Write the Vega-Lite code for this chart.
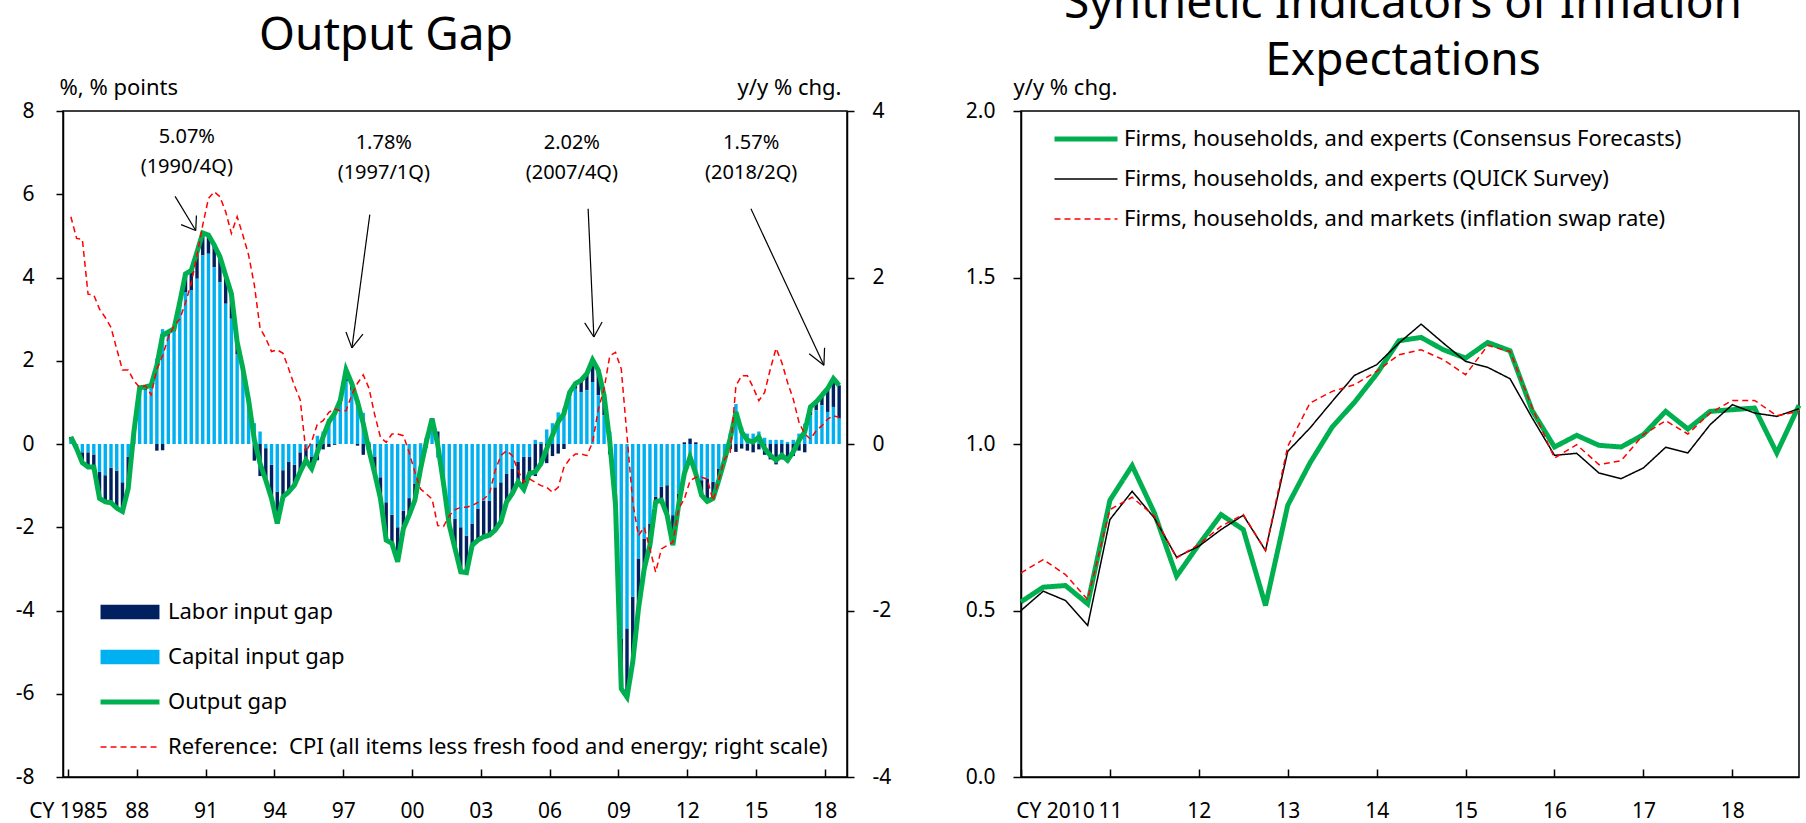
{
  "$schema": "https://vega.github.io/schema/vega-lite/v6.json",
  "background": "white",
  "padding": {"left": 14, "top": -20, "right": 0, "bottom": 0},
  "bounds": "flush",
  "spacing": 174,
  "resolve": {"scale": {"stroke": "independent", "strokeDash": "independent", "fill": "independent"}, "legend": {"stroke": "independent", "strokeDash": "independent", "fill": "independent"}},
  "config": {
    "font": "Noto Sans",
    "view": {"stroke": "black", "strokeWidth": 1.5},
    "axis": {"grid": false, "domainColor": "black", "domainWidth": 1.5, "tickColor": "black", "tickWidth": 1.5, "labelColor": "black", "labelFontSize": 21, "titleFontSize": 22, "titleFontWeight": "normal", "titleColor": "black", "labelFont": "Noto Sans", "titleFont": "Noto Sans"},
    "legend": {"labelFontSize": 22, "labelColor": "black", "labelFont": "Noto Sans", "title": null, "labelLimit": 0},
    "title": {"font": "Noto Sans", "fontSize": 46, "fontWeight": "normal", "color": "black"}
  },
  "datasets": {
    "og": [
      {"t": 1985.125, "lab": 0.05, "cap": 0.12, "out": 0.17, "cpi": 2.73},
      {"t": 1985.375, "lab": -0.06, "cap": -0.05, "out": -0.11, "cpi": 2.47},
      {"t": 1985.625, "lab": -0.25, "cap": -0.2, "out": -0.45, "cpi": 2.46},
      {"t": 1985.875, "lab": -0.35, "cap": -0.2, "out": -0.55, "cpi": 1.8},
      {"t": 1986.125, "lab": -0.3, "cap": -0.25, "out": -0.55, "cpi": 1.79},
      {"t": 1986.375, "lab": -0.64, "cap": -0.67, "out": -1.31, "cpi": 1.62},
      {"t": 1986.625, "lab": -0.64, "cap": -0.75, "out": -1.39, "cpi": 1.52},
      {"t": 1986.875, "lab": -0.84, "cap": -0.57, "out": -1.41, "cpi": 1.4},
      {"t": 1987.125, "lab": -0.9, "cap": -0.64, "out": -1.54, "cpi": 1.14},
      {"t": 1987.375, "lab": -0.7, "cap": -0.92, "out": -1.62, "cpi": 0.89},
      {"t": 1987.625, "lab": -0.76, "cap": -0.31, "out": -1.07, "cpi": 0.89},
      {"t": 1987.875, "lab": 0.0, "cap": 0.3, "out": 0.3, "cpi": 0.76},
      {"t": 1988.125, "lab": 0.05, "cap": 1.3, "out": 1.35, "cpi": 0.68},
      {"t": 1988.375, "lab": 0.07, "cap": 1.3, "out": 1.37, "cpi": 0.7},
      {"t": 1988.625, "lab": 0.06, "cap": 1.35, "out": 1.41, "cpi": 0.59},
      {"t": 1988.875, "lab": -0.16, "cap": 2.05, "out": 1.89, "cpi": 0.9},
      {"t": 1989.125, "lab": -0.15, "cap": 2.76, "out": 2.61, "cpi": 1.06},
      {"t": 1989.375, "lab": 0.09, "cap": 2.6, "out": 2.69, "cpi": 1.28},
      {"t": 1989.625, "lab": 0.07, "cap": 2.7, "out": 2.77, "cpi": 1.42},
      {"t": 1989.875, "lab": 0.11, "cap": 3.3, "out": 3.41, "cpi": 1.5},
      {"t": 1990.125, "lab": 0.44, "cap": 3.65, "out": 4.09, "cpi": 1.7},
      {"t": 1990.375, "lab": 0.47, "cap": 3.7, "out": 4.17, "cpi": 1.93},
      {"t": 1990.625, "lab": 0.64, "cap": 3.97, "out": 4.61, "cpi": 2.27},
      {"t": 1990.875, "lab": 0.54, "cap": 4.53, "out": 5.07, "cpi": 2.63},
      {"t": 1991.125, "lab": 0.45, "cap": 4.57, "out": 5.02, "cpi": 2.95},
      {"t": 1991.375, "lab": 0.53, "cap": 4.25, "out": 4.78, "cpi": 3.03},
      {"t": 1991.625, "lab": 0.61, "cap": 3.89, "out": 4.5, "cpi": 2.97},
      {"t": 1991.875, "lab": 0.68, "cap": 3.37, "out": 4.05, "cpi": 2.79},
      {"t": 1992.125, "lab": 0.6, "cap": 3.01, "out": 3.61, "cpi": 2.53},
      {"t": 1992.375, "lab": 0.3, "cap": 2.15, "out": 2.45, "cpi": 2.73},
      {"t": 1992.625, "lab": 0.1, "cap": 1.71, "out": 1.81, "cpi": 2.51},
      {"t": 1992.875, "lab": 0.0, "cap": 1.05, "out": 1.05, "cpi": 2.27},
      {"t": 1993.125, "lab": -0.4, "cap": 0.5, "out": 0.1, "cpi": 1.91},
      {"t": 1993.375, "lab": -0.77, "cap": 0.3, "out": -0.47, "cpi": 1.39},
      {"t": 1993.625, "lab": -0.77, "cap": -0.1, "out": -0.87, "cpi": 1.27},
      {"t": 1993.875, "lab": -0.81, "cap": -0.5, "out": -1.31, "cpi": 1.11},
      {"t": 1994.125, "lab": -0.76, "cap": -1.15, "out": -1.91, "cpi": 1.13},
      {"t": 1994.375, "lab": -0.64, "cap": -0.63, "out": -1.27, "cpi": 1.09},
      {"t": 1994.625, "lab": -0.72, "cap": -0.43, "out": -1.15, "cpi": 0.9},
      {"t": 1994.875, "lab": -0.49, "cap": -0.5, "out": -0.99, "cpi": 0.7},
      {"t": 1995.125, "lab": -0.47, "cap": -0.2, "out": -0.67, "cpi": 0.53},
      {"t": 1995.375, "lab": -0.29, "cap": -0.1, "out": -0.39, "cpi": -0.09},
      {"t": 1995.625, "lab": -0.29, "cap": -0.3, "out": -0.59, "cpi": 0.03},
      {"t": 1995.875, "lab": -0.39, "cap": 0.2, "out": -0.19, "cpi": 0.24},
      {"t": 1996.125, "lab": -0.13, "cap": 0.3, "out": 0.17, "cpi": 0.28},
      {"t": 1996.375, "lab": -0.07, "cap": 0.6, "out": 0.53, "cpi": 0.38},
      {"t": 1996.625, "lab": -0.02, "cap": 0.75, "out": 0.73, "cpi": 0.42},
      {"t": 1996.875, "lab": 0.1, "cap": 0.95, "out": 1.05, "cpi": 0.4},
      {"t": 1997.125, "lab": 0.28, "cap": 1.5, "out": 1.78, "cpi": 0.4},
      {"t": 1997.375, "lab": 0.15, "cap": 1.3, "out": 1.45, "cpi": 0.59},
      {"t": 1997.625, "lab": -0.04, "cap": 1.05, "out": 1.01, "cpi": 0.73},
      {"t": 1997.875, "lab": -0.26, "cap": 0.75, "out": 0.49, "cpi": 0.83},
      {"t": 1998.125, "lab": -0.2, "cap": 0.05, "out": -0.15, "cpi": 0.67},
      {"t": 1998.375, "lab": -0.41, "cap": -0.3, "out": -0.71, "cpi": 0.35},
      {"t": 1998.625, "lab": -0.51, "cap": -0.8, "out": -1.31, "cpi": 0.08},
      {"t": 1998.875, "lab": -0.91, "cap": -1.4, "out": -2.31, "cpi": 0.02},
      {"t": 1999.125, "lab": -0.69, "cap": -1.7, "out": -2.39, "cpi": 0.12},
      {"t": 1999.375, "lab": -0.83, "cap": -2.0, "out": -2.83, "cpi": 0.12},
      {"t": 1999.625, "lab": -0.43, "cap": -1.6, "out": -2.03, "cpi": 0.1},
      {"t": 1999.875, "lab": -0.41, "cap": -1.3, "out": -1.71, "cpi": -0.1},
      {"t": 2000.125, "lab": -0.4, "cap": -0.95, "out": -1.35, "cpi": -0.34},
      {"t": 2000.375, "lab": 0.01, "cap": -0.6, "out": -0.59, "cpi": -0.54},
      {"t": 2000.625, "lab": 0.15, "cap": -0.1, "out": 0.05, "cpi": -0.6},
      {"t": 2000.875, "lab": 0.26, "cap": 0.35, "out": 0.61, "cpi": -0.66},
      {"t": 2001.125, "lab": 0.3, "cap": -0.33, "out": -0.03, "cpi": -0.98},
      {"t": 2001.375, "lab": -0.05, "cap": -0.9, "out": -0.95, "cpi": -0.99},
      {"t": 2001.625, "lab": -0.25, "cap": -1.7, "out": -1.95, "cpi": -0.86},
      {"t": 2001.875, "lab": -0.71, "cap": -1.8, "out": -2.51, "cpi": -0.79},
      {"t": 2002.125, "lab": -1.07, "cap": -2.0, "out": -3.07, "cpi": -0.76},
      {"t": 2002.375, "lab": -0.89, "cap": -2.2, "out": -3.09, "cpi": -0.76},
      {"t": 2002.625, "lab": -0.52, "cap": -1.91, "out": -2.43, "cpi": -0.74},
      {"t": 2002.875, "lab": -0.76, "cap": -1.55, "out": -2.31, "cpi": -0.7},
      {"t": 2003.125, "lab": -0.87, "cap": -1.36, "out": -2.23, "cpi": -0.66},
      {"t": 2003.375, "lab": -0.83, "cap": -1.36, "out": -2.19, "cpi": -0.6},
      {"t": 2003.625, "lab": -1.03, "cap": -1.04, "out": -2.07, "cpi": -0.32},
      {"t": 2003.875, "lab": -0.95, "cap": -0.92, "out": -1.87, "cpi": -0.14},
      {"t": 2004.125, "lab": -0.67, "cap": -0.72, "out": -1.39, "cpi": -0.08},
      {"t": 2004.375, "lab": -0.6, "cap": -0.59, "out": -1.19, "cpi": -0.14},
      {"t": 2004.625, "lab": -0.48, "cap": -0.43, "out": -0.91, "cpi": -0.32},
      {"t": 2004.875, "lab": -0.78, "cap": -0.31, "out": -1.09, "cpi": -0.46},
      {"t": 2005.125, "lab": -0.4, "cap": -0.31, "out": -0.71, "cpi": -0.42},
      {"t": 2005.375, "lab": -0.77, "cap": 0.1, "out": -0.67, "cpi": -0.46},
      {"t": 2005.625, "lab": -0.52, "cap": 0.05, "out": -0.47, "cpi": -0.5},
      {"t": 2005.875, "lab": -0.46, "cap": 0.35, "out": -0.11, "cpi": -0.52},
      {"t": 2006.125, "lab": -0.29, "cap": 0.5, "out": 0.21, "cpi": -0.58},
      {"t": 2006.375, "lab": -0.23, "cap": 0.76, "out": 0.53, "cpi": -0.52},
      {"t": 2006.625, "lab": -0.12, "cap": 0.85, "out": 0.73, "cpi": -0.28},
      {"t": 2006.875, "lab": 0.07, "cap": 1.17, "out": 1.24, "cpi": -0.18},
      {"t": 2007.125, "lab": 0.12, "cap": 1.33, "out": 1.45, "cpi": -0.12},
      {"t": 2007.375, "lab": 0.28, "cap": 1.25, "out": 1.53, "cpi": -0.12},
      {"t": 2007.625, "lab": 0.4, "cap": 1.29, "out": 1.69, "cpi": -0.14},
      {"t": 2007.875, "lab": 0.53, "cap": 1.49, "out": 2.02, "cpi": 0.02},
      {"t": 2008.125, "lab": 0.6, "cap": 1.17, "out": 1.77, "cpi": 0.42},
      {"t": 2008.375, "lab": 0.48, "cap": 0.69, "out": 1.17, "cpi": 0.66},
      {"t": 2008.625, "lab": -0.25, "cap": 0.3, "out": 0.05, "cpi": 1.06},
      {"t": 2008.875, "lab": -0.27, "cap": -1.2, "out": -1.47, "cpi": 1.1},
      {"t": 2009.125, "lab": -1.2, "cap": -4.68, "out": -5.88, "cpi": 0.9},
      {"t": 2009.375, "lab": -1.65, "cap": -4.43, "out": -6.08, "cpi": 0.1},
      {"t": 2009.625, "lab": -1.57, "cap": -3.67, "out": -5.24, "cpi": -0.7},
      {"t": 2009.875, "lab": -1.21, "cap": -2.75, "out": -3.96, "cpi": -1.1},
      {"t": 2010.125, "lab": -0.73, "cap": -2.27, "out": -3.0, "cpi": -1.0},
      {"t": 2010.375, "lab": -0.52, "cap": -1.91, "out": -2.43, "cpi": -1.26},
      {"t": 2010.625, "lab": -0.12, "cap": -1.27, "out": -1.39, "cpi": -1.54},
      {"t": 2010.875, "lab": -0.32, "cap": -1.03, "out": -1.35, "cpi": -1.26},
      {"t": 2011.125, "lab": -0.72, "cap": -0.99, "out": -1.71, "cpi": -1.22},
      {"t": 2011.375, "lab": -0.72, "cap": -1.71, "out": -2.43, "cpi": -1.18},
      {"t": 2011.625, "lab": -0.27, "cap": -1.2, "out": -1.47, "cpi": -0.78},
      {"t": 2011.875, "lab": 0.04, "cap": -0.75, "out": -0.71, "cpi": -0.66},
      {"t": 2012.125, "lab": 0.13, "cap": -0.44, "out": -0.31, "cpi": -0.44},
      {"t": 2012.375, "lab": 0.04, "cap": -0.75, "out": -0.71, "cpi": -0.4},
      {"t": 2012.625, "lab": -0.36, "cap": -0.87, "out": -1.23, "cpi": -0.4},
      {"t": 2012.875, "lab": -0.55, "cap": -0.83, "out": -1.38, "cpi": -0.42},
      {"t": 2013.125, "lab": -0.4, "cap": -0.91, "out": -1.31, "cpi": -0.68},
      {"t": 2013.375, "lab": -0.27, "cap": -0.6, "out": -0.87, "cpi": -0.44},
      {"t": 2013.625, "lab": -0.09, "cap": -0.3, "out": -0.39, "cpi": -0.18},
      {"t": 2013.875, "lab": -0.12, "cap": 0.25, "out": 0.13, "cpi": -0.1},
      {"t": 2014.125, "lab": -0.19, "cap": 0.96, "out": 0.77, "cpi": 0.7},
      {"t": 2014.375, "lab": -0.11, "cap": 0.4, "out": 0.29, "cpi": 0.82},
      {"t": 2014.625, "lab": -0.16, "cap": 0.25, "out": 0.09, "cpi": 0.82},
      {"t": 2014.875, "lab": -0.2, "cap": 0.25, "out": 0.05, "cpi": 0.68},
      {"t": 2015.125, "lab": -0.13, "cap": 0.3, "out": 0.17, "cpi": 0.52},
      {"t": 2015.375, "lab": -0.26, "cap": 0.15, "out": -0.11, "cpi": 0.62},
      {"t": 2015.625, "lab": -0.37, "cap": 0.1, "out": -0.27, "cpi": 0.9},
      {"t": 2015.875, "lab": -0.49, "cap": 0.1, "out": -0.39, "cpi": 1.15},
      {"t": 2016.125, "lab": -0.37, "cap": 0.1, "out": -0.27, "cpi": 0.98},
      {"t": 2016.375, "lab": -0.44, "cap": 0.05, "out": -0.39, "cpi": 0.74},
      {"t": 2016.625, "lab": -0.29, "cap": 0.1, "out": -0.19, "cpi": 0.54},
      {"t": 2016.875, "lab": -0.16, "cap": 0.25, "out": 0.09, "cpi": 0.26},
      {"t": 2017.125, "lab": -0.2, "cap": 0.49, "out": 0.29, "cpi": 0.12},
      {"t": 2017.375, "lab": 0.2, "cap": 0.69, "out": 0.89, "cpi": 0.06},
      {"t": 2017.625, "lab": 0.2, "cap": 0.81, "out": 1.01, "cpi": 0.16},
      {"t": 2017.875, "lab": 0.24, "cap": 0.93, "out": 1.17, "cpi": 0.22},
      {"t": 2018.125, "lab": 0.56, "cap": 0.77, "out": 1.33, "cpi": 0.3},
      {"t": 2018.375, "lab": 0.68, "cap": 0.89, "out": 1.57, "cpi": 0.34},
      {"t": 2018.625, "lab": 0.8, "cap": 0.61, "out": 1.41, "cpi": 0.32}
    ],
    "notes": [
      {"tx": 1990.18, "ty": 7.38, "label": "5.07%"},
      {"tx": 1990.18, "ty": 6.66, "label": "(1990/4Q)"},
      {"tx": 1998.77, "ty": 7.24, "label": "1.78%"},
      {"tx": 1998.77, "ty": 6.52, "label": "(1997/1Q)"},
      {"tx": 2006.97, "ty": 7.22, "label": "2.02%"},
      {"tx": 2006.97, "ty": 6.52, "label": "(2007/4Q)"},
      {"tx": 2014.79, "ty": 7.22, "label": "1.57%"},
      {"tx": 2014.79, "ty": 6.52, "label": "(2018/2Q)"}
    ],
    "arrows": [
      {"x1": 1989.67, "y1": 5.95, "x2": 1990.57, "y2": 5.13},
      {"x1": 1989.93, "y1": 5.27, "x2": 1990.57, "y2": 5.13},
      {"x1": 1990.6, "y1": 5.49, "x2": 1990.57, "y2": 5.13},
      {"x1": 1998.16, "y1": 5.51, "x2": 1997.38, "y2": 2.31},
      {"x1": 1997.12, "y1": 2.69, "x2": 1997.38, "y2": 2.31},
      {"x1": 1997.86, "y1": 2.64, "x2": 1997.38, "y2": 2.31},
      {"x1": 2007.68, "y1": 5.65, "x2": 2007.93, "y2": 2.57},
      {"x1": 2007.53, "y1": 2.91, "x2": 2007.93, "y2": 2.57},
      {"x1": 2008.29, "y1": 2.93, "x2": 2007.93, "y2": 2.57},
      {"x1": 2014.78, "y1": 5.65, "x2": 2017.96, "y2": 1.89},
      {"x1": 2017.32, "y1": 2.17, "x2": 2017.96, "y2": 1.89},
      {"x1": 2017.99, "y1": 2.31, "x2": 2017.96, "y2": 1.89}
    ],
    "ie": [
      {"t": 2010.0, "cf": 0.526, "qs": 0.5, "sw": 0.613},
      {"t": 2010.25, "cf": 0.57, "qs": 0.558, "sw": 0.653},
      {"t": 2010.5, "cf": 0.575, "qs": 0.53, "sw": 0.608},
      {"t": 2010.75, "cf": 0.52, "qs": 0.455, "sw": 0.533},
      {"t": 2011.0, "cf": 0.831, "qs": 0.773, "sw": 0.803},
      {"t": 2011.25, "cf": 0.935, "qs": 0.858, "sw": 0.84},
      {"t": 2011.5, "cf": 0.793, "qs": 0.778, "sw": 0.783},
      {"t": 2011.75, "cf": 0.603, "qs": 0.66, "sw": 0.658},
      {"t": 2012.0, "cf": 0.698, "qs": 0.693, "sw": 0.698},
      {"t": 2012.25, "cf": 0.788, "qs": 0.743, "sw": 0.753},
      {"t": 2012.5, "cf": 0.743, "qs": 0.786, "sw": 0.788},
      {"t": 2012.75, "cf": 0.515, "qs": 0.68, "sw": 0.68},
      {"t": 2013.0, "cf": 0.816, "qs": 0.978, "sw": 0.993},
      {"t": 2013.25, "cf": 0.943, "qs": 1.048, "sw": 1.123},
      {"t": 2013.5, "cf": 1.051, "qs": 1.128, "sw": 1.158},
      {"t": 2013.75, "cf": 1.125, "qs": 1.206, "sw": 1.178},
      {"t": 2014.0, "cf": 1.21, "qs": 1.238, "sw": 1.218},
      {"t": 2014.25, "cf": 1.31, "qs": 1.303, "sw": 1.268},
      {"t": 2014.5, "cf": 1.32, "qs": 1.36, "sw": 1.283},
      {"t": 2014.75, "cf": 1.283, "qs": 1.303, "sw": 1.253},
      {"t": 2015.0, "cf": 1.258, "qs": 1.248, "sw": 1.208},
      {"t": 2015.25, "cf": 1.305, "qs": 1.23, "sw": 1.296},
      {"t": 2015.5, "cf": 1.28, "qs": 1.196, "sw": 1.278},
      {"t": 2015.75, "cf": 1.1, "qs": 1.078, "sw": 1.108},
      {"t": 2016.0, "cf": 0.991, "qs": 0.966, "sw": 0.958},
      {"t": 2016.25, "cf": 1.026, "qs": 0.972, "sw": 0.998},
      {"t": 2016.5, "cf": 0.996, "qs": 0.913, "sw": 0.938},
      {"t": 2016.75, "cf": 0.991, "qs": 0.896, "sw": 0.95},
      {"t": 2017.0, "cf": 1.028, "qs": 0.928, "sw": 1.028},
      {"t": 2017.25, "cf": 1.098, "qs": 0.99, "sw": 1.07},
      {"t": 2017.5, "cf": 1.045, "qs": 0.973, "sw": 1.03},
      {"t": 2017.75, "cf": 1.098, "qs": 1.058, "sw": 1.093},
      {"t": 2018.0, "cf": 1.103, "qs": 1.118, "sw": 1.131},
      {"t": 2018.25, "cf": 1.108, "qs": 1.093, "sw": 1.131},
      {"t": 2018.5, "cf": 0.973, "qs": 1.083, "sw": 1.085},
      {"t": 2018.75, "cf": 1.116, "qs": 1.106, "sw": 1.098}
    ]
  },
  "hconcat": [
    {
      "width": 784,
      "height": 666,
      "view": {"stroke": "black", "strokeWidth": 1.5},
      "title": {"text": "Output Gap", "anchor": "middle", "dx": -69, "baseline": "alphabetic", "offset": -20},
      "layer": [
        {
          "layer": [
            {
              "data": {"name": "og"},
              "transform": [{"fold": ["lab", "cap"], "as": ["comp", "gap"]}],
              "mark": {"type": "bar", "width": 3.4},
              "encoding": {
                "x": {"field": "t", "type": "quantitative", "scale": {"domain": [1985, 2018.75], "nice": false, "zero": false},
                      "axis": {"orient": "bottom", "title": null, "values": [1985, 1988, 1991, 1994, 1997, 2000, 2003, 2006, 2009, 2012, 2015, 2018], "labelExpr": "datum.value == 1985 ? 'CY 1985' : slice('' + datum.value, 2)", "tickSize": -8, "labelPadding": 31, "labelFlush": false, "labelOverlap": false}},
                "y": {"field": "gap", "type": "quantitative", "stack": "zero", "scale": {"domain": [-8, 8], "nice": false},
                      "axis": {"orient": "left", "title": "%, % points", "values": [-8, -6, -4, -2, 0, 2, 4, 6, 8], "labelExpr": "'' + datum.value", "tickSize": 7, "labelPadding": 22, "titleAngle": 0, "titleAlign": "left", "titleBaseline": "alphabetic", "titleX": -4, "titleY": -17}},
                "fill": {"field": "comp", "type": "nominal", "scale": {"domain": ["lab", "cap"], "range": ["#002060", "#00B0F0"]},
                         "legend": {"orient": "none", "legendX": 56, "legendY": 490, "symbolType": "M-3,-0.75H3V0.75H-3Z", "symbolSize": 386, "symbolStrokeWidth": 0, "labelOffset": 27, "rowPadding": 23, "labelExpr": "datum.label == 'lab' ? 'Labor input gap' : 'Capital input gap'"}},
                "order": {"field": "comp", "sort": "ascending"}
              }
            },
            {
              "mark": {"type": "rule", "color": "black", "strokeWidth": 1.5},
              "encoding": {
                "y": {"datum": 0, "type": "quantitative", "scale": {"domain": [-8, 8], "nice": false},
                      "axis": {"orient": "left", "title": "%, % points", "values": [-8, -6, -4, -2, 0, 2, 4, 6, 8], "labelExpr": "'' + datum.value", "tickSize": 7, "labelPadding": 22, "titleAngle": 0, "titleAlign": "left", "titleBaseline": "alphabetic", "titleX": -4, "titleY": -17}}
              }
            },
            {
              "data": {"name": "og"},
              "mark": {"type": "line", "strokeWidth": 5},
              "encoding": {
                "x": {"field": "t", "type": "quantitative", "scale": {"domain": [1985, 2018.75], "nice": false, "zero": false},
                      "axis": {"orient": "bottom", "title": null, "values": [1985, 1988, 1991, 1994, 1997, 2000, 2003, 2006, 2009, 2012, 2015, 2018], "labelExpr": "datum.value == 1985 ? 'CY 1985' : slice('' + datum.value, 2)", "tickSize": -8, "labelPadding": 31, "labelFlush": false, "labelOverlap": false}},
                "y": {"field": "out", "type": "quantitative", "scale": {"domain": [-8, 8], "nice": false},
                      "axis": {"orient": "left", "title": "%, % points", "values": [-8, -6, -4, -2, 0, 2, 4, 6, 8], "labelExpr": "'' + datum.value", "tickSize": 7, "labelPadding": 22, "titleAngle": 0, "titleAlign": "left", "titleBaseline": "alphabetic", "titleX": -4, "titleY": -17}},
                "stroke": {"datum": "Output gap", "type": "nominal",
                           "scale": {"domain": ["Output gap", "Reference:\u00a0 CPI (all items less fresh food and energy; right scale)"], "range": ["#00B050", "#FF0000"]},
                           "legend": {"orient": "none", "legendX": 56, "legendY": 580, "symbolType": "M-3,0H3", "symbolSize": 386, "labelOffset": 27, "rowPadding": 23,
                                      "encode": {"symbols": {"update": {"strokeWidth": {"signal": "datum.value === 'Output gap' ? 5 : 1.5"}}}}}},
                "strokeDash": {"datum": "Output gap", "type": "nominal",
                               "scale": {"domain": ["Output gap", "Reference:\u00a0 CPI (all items less fresh food and energy; right scale)"], "range": [[1, 0], [6, 4]]}}
              }
            },
            {
              "data": {"name": "arrows"},
              "mark": {"type": "rule", "color": "black", "strokeWidth": 1.2},
              "encoding": {
                "x": {"field": "x1", "type": "quantitative", "scale": {"domain": [1985, 2018.75], "nice": false, "zero": false},
                      "axis": {"orient": "bottom", "title": null, "values": [1985, 1988, 1991, 1994, 1997, 2000, 2003, 2006, 2009, 2012, 2015, 2018], "labelExpr": "datum.value == 1985 ? 'CY 1985' : slice('' + datum.value, 2)", "tickSize": -8, "labelPadding": 31, "labelFlush": false, "labelOverlap": false}},
                "y": {"field": "y1", "type": "quantitative", "scale": {"domain": [-8, 8], "nice": false},
                      "axis": {"orient": "left", "title": "%, % points", "values": [-8, -6, -4, -2, 0, 2, 4, 6, 8], "labelExpr": "'' + datum.value", "tickSize": 7, "labelPadding": 22, "titleAngle": 0, "titleAlign": "left", "titleBaseline": "alphabetic", "titleX": -4, "titleY": -17}},
                "x2": {"field": "x2"},
                "y2": {"field": "y2"}
              }
            },
            {
              "data": {"name": "notes"},
              "mark": {"type": "text", "fontSize": 20, "color": "black", "align": "center", "baseline": "middle"},
              "encoding": {
                "x": {"field": "tx", "type": "quantitative", "scale": {"domain": [1985, 2018.75], "nice": false, "zero": false},
                      "axis": {"orient": "bottom", "title": null, "values": [1985, 1988, 1991, 1994, 1997, 2000, 2003, 2006, 2009, 2012, 2015, 2018], "labelExpr": "datum.value == 1985 ? 'CY 1985' : slice('' + datum.value, 2)", "tickSize": -8, "labelPadding": 31, "labelFlush": false, "labelOverlap": false}},
                "y": {"field": "ty", "type": "quantitative", "scale": {"domain": [-8, 8], "nice": false},
                      "axis": {"orient": "left", "title": "%, % points", "values": [-8, -6, -4, -2, 0, 2, 4, 6, 8], "labelExpr": "'' + datum.value", "tickSize": 7, "labelPadding": 22, "titleAngle": 0, "titleAlign": "left", "titleBaseline": "alphabetic", "titleX": -4, "titleY": -17}},
                "text": {"field": "label"}
              }
            }
          ]
        },
        {
          "data": {"name": "og"},
          "mark": {"type": "line", "strokeWidth": 1.5},
          "encoding": {
            "x": {"field": "t", "type": "quantitative", "scale": {"domain": [1985, 2018.75], "nice": false, "zero": false},
                  "axis": {"orient": "bottom", "title": null, "values": [1985, 1988, 1991, 1994, 1997, 2000, 2003, 2006, 2009, 2012, 2015, 2018], "labelExpr": "datum.value == 1985 ? 'CY 1985' : slice('' + datum.value, 2)", "tickSize": -8, "labelPadding": 31, "labelFlush": false, "labelOverlap": false}},
            "y": {"field": "cpi", "type": "quantitative", "scale": {"domain": [-4, 4], "nice": false},
                  "axis": {"orient": "right", "title": "y/y % chg.", "values": [-4, -2, 0, 2, 4], "labelExpr": "'' + datum.value", "tickSize": 7, "labelPadding": 18, "titleAngle": 0, "titleAlign": "right", "titleBaseline": "alphabetic", "titleX": -6, "titleY": -17}},
            "stroke": {"datum": "Reference:\u00a0 CPI (all items less fresh food and energy; right scale)", "type": "nominal"},
            "strokeDash": {"datum": "Reference:\u00a0 CPI (all items less fresh food and energy; right scale)", "type": "nominal"}
          }
        }
      ],
      "resolve": {"scale": {"y": "independent"}}
    },
    {
      "width": 778,
      "height": 666,
      "view": {"stroke": "black", "strokeWidth": 1.5},
      "title": {"text": ["Synthetic Indicators of Inflation", "Expectations"], "anchor": "middle", "dx": -7, "baseline": "alphabetic", "offset": -45, "lineHeight": 57},
      "data": {"name": "ie"},
      "transform": [{"fold": ["cf", "qs", "sw"], "as": ["series", "v"]}],
      "mark": {"type": "line"},
      "encoding": {
        "x": {"field": "t", "type": "quantitative", "scale": {"domain": [2010, 2018.75], "nice": false, "zero": false},
              "axis": {"orient": "bottom", "title": null, "values": [2010, 2011, 2012, 2013, 2014, 2015, 2016, 2017, 2018], "labelExpr": "datum.value == 2010 ? 'CY 2010' : slice('' + datum.value, 2)", "tickSize": -8, "labelPadding": 31, "labelFlush": false, "labelOverlap": false,
                       "labelOffset": {"condition": {"test": "datum.value == 2010", "value": 34}, "value": 0}}},
        "y": {"field": "v", "type": "quantitative", "scale": {"domain": [0, 2], "nice": false},
              "axis": {"orient": "left", "title": "y/y % chg.", "values": [0, 0.5, 1, 1.5, 2], "format": ".1f", "tickSize": 8, "labelPadding": 18, "titleAngle": 0, "titleAlign": "left", "titleBaseline": "alphabetic", "titleX": -8, "titleY": -17}},
        "stroke": {"field": "series", "type": "nominal", "scale": {"domain": ["cf", "qs", "sw"], "range": ["#00B050", "#000000", "#FF0000"]},
                   "legend": {"orient": "none", "legendX": 54, "legendY": 17, "symbolType": "M-3,0H3", "symbolSize": 441, "labelOffset": 27, "rowPadding": 18,
                              "labelExpr": "datum.label == 'cf' ? 'Firms, households, and experts (Consensus Forecasts)' : datum.label == 'qs' ? 'Firms, households, and experts (QUICK Survey)' : 'Firms, households, and markets (inflation swap rate)'",
                              "encode": {"symbols": {"update": {"strokeWidth": {"signal": "datum.value === 'cf' ? 5 : 1.5"}}}}}},
        "strokeDash": {"field": "series", "type": "nominal", "scale": {"domain": ["cf", "qs", "sw"], "range": [[1, 0], [1, 0], [6, 4]]}},
        "strokeWidth": {"condition": {"test": "datum.series === 'cf'", "value": 5}, "value": 1.5}
      }
    }
  ]
}
